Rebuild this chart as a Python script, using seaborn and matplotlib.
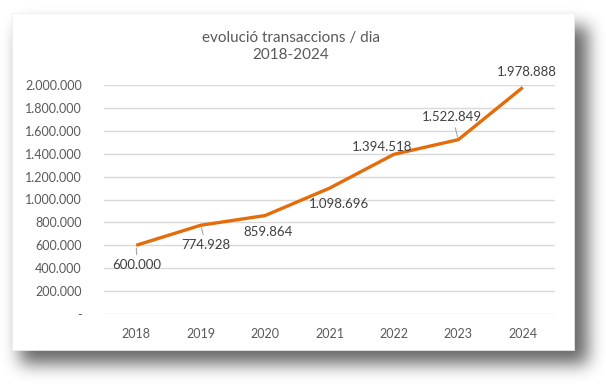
import matplotlib
matplotlib.use("Agg")
import matplotlib.pyplot as plt
import seaborn as sns
import numpy as np
import pandas as pd
from matplotlib.patches import Rectangle

years = ["2018", "2019", "2020", "2021", "2022", "2023", "2024"]
values = [600000, 774928, 859864, 1098696, 1394518, 1522849, 1978888]
value_labels = ["600.000", "774.928", "859.864", "1.098.696", "1.394.518", "1.522.849", "1.978.888"]
y_ticks = [0, 200000, 400000, 600000, 800000, 1000000, 1200000, 1400000, 1600000, 1800000, 2000000]
y_tick_labels = ["-", "200.000", "400.000", "600.000", "800.000", "1.000.000", "1.200.000",
                 "1.400.000", "1.600.000", "1.800.000", "2.000.000"]
title = "evolució transaccions / dia\n2018-2024"

sns.set_theme(style="white")
plt.rcParams['font.family'] = ['Lato', 'DejaVu Sans']

W, H = 606, 388
fig = plt.figure(figsize=(W / 100, H / 100), dpi=100)
fig.patch.set_facecolor("white")

def px_rect(x0, y0, x1, y1, **kw):
    return Rectangle((x0 / W, 1 - y1 / H), (x1 - x0) / W, (y1 - y0) / H,
                     transform=fig.transFigure, **kw)

# soft drop shadow (blurred mask rendered as figure image)
mask = np.zeros((H, W))
mask[26:364, 20:588] = 1.0
sigma = 8.5
r = np.arange(-26, 27)
k = np.exp(-r ** 2 / (2 * sigma ** 2))
k /= k.sum()
mask = np.apply_along_axis(lambda m: np.convolve(m, k, mode="same"), 0, mask)
mask = np.apply_along_axis(lambda m: np.convolve(m, k, mode="same"), 1, mask)
rgba = np.zeros((H, W, 4))
rgba[..., 3] = mask * 0.6
fig.figimage(rgba[::-1], xo=0, yo=0, origin="lower", zorder=0)

# card
fig.patches.append(px_rect(12, 13, 574, 350, facecolor="white", edgecolor="#ececec", lw=0.5, zorder=1))

ax = fig.add_axes([104 / W, 1 - 314 / H, (555 - 104) / W, (314 - 85) / H])
ax.set_facecolor("none")
ax.set_zorder(2)

df = pd.DataFrame({"pos": np.arange(len(years)), "value": values})
sns.lineplot(data=df, x="pos", y="value", ax=ax, color="#E46C0A", linewidth=2.4,
             solid_capstyle="butt", zorder=5)
for l in ax.lines:
    l.set_clip_on(False)

ax.set_xlim(-0.5, len(years) - 0.5)
ax.set_ylim(0, 2000000)
ax.set_xticks(np.arange(len(years)))
ax.set_xticklabels(years)
ax.set_yticks(y_ticks)
ax.set_yticklabels(y_tick_labels)
ax.set_xlabel("")
ax.set_ylabel("")
for s in ax.spines.values():
    s.set_visible(False)
ax.grid(axis="y", color="#d9d9d9", linewidth=1.0)
ax.set_axisbelow(True)
ax.tick_params(axis="both", length=0, labelsize=9, labelcolor="#595959")
ax.tick_params(axis="x", pad=10)
ax.tick_params(axis="y", pad=16)

# data labels (offsets in pixels)
offsets = [(1, -20), (5.5, -20), (3, -16.5), (9.5, -16), (-12, 7), (-6, 22.5), (4, 15)]
leaders = [True, True, False, False, False, True, False]
for i, (v, lab, off, ld) in enumerate(zip(values, value_labels, offsets, leaders)):
    kw = {}
    if ld:
        kw["arrowprops"] = dict(arrowstyle="-", color="#a6a6a6", lw=0.8, shrinkA=1, shrinkB=2)
    ax.annotate(lab, xy=(i, v), xytext=off, textcoords="offset pixels",
                ha="center", va="center", fontsize=9.5, color="#404040", zorder=6,
                annotation_clip=False, **kw)

fig.text(291 / W, 1 - 46.5 / H, title, ha="center", va="center", fontsize=11,
         color="#595959", linespacing=1.2, zorder=3)

fig.savefig("out.png", dpi=100, facecolor="white")
